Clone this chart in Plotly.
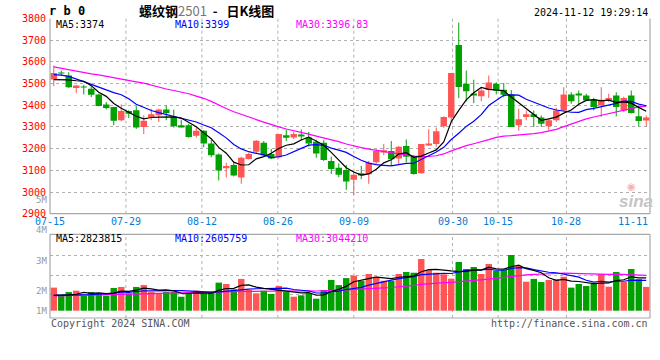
import plotly.graph_objects as go

# ---------------- data ----------------
dates = [
    "2024-07-15", "2024-07-16", "2024-07-17", "2024-07-18", "2024-07-19", "2024-07-22", "2024-07-23",
    "2024-07-24", "2024-07-25", "2024-07-26", "2024-07-29", "2024-07-30", "2024-07-31",
    "2024-08-01", "2024-08-02", "2024-08-05", "2024-08-06", "2024-08-07", "2024-08-08", "2024-08-09",
    "2024-08-12", "2024-08-13", "2024-08-14", "2024-08-15", "2024-08-16", "2024-08-19", "2024-08-20",
    "2024-08-21", "2024-08-22", "2024-08-23", "2024-08-26", "2024-08-27", "2024-08-28", "2024-08-29",
    "2024-08-30",
    "2024-09-02", "2024-09-03", "2024-09-04", "2024-09-05", "2024-09-06", "2024-09-09", "2024-09-10",
    "2024-09-11", "2024-09-12", "2024-09-13", "2024-09-18", "2024-09-19", "2024-09-20", "2024-09-23",
    "2024-09-24", "2024-09-25", "2024-09-26", "2024-09-27", "2024-09-30",
    "2024-10-08", "2024-10-09", "2024-10-10", "2024-10-11", "2024-10-14", "2024-10-15", "2024-10-16",
    "2024-10-17", "2024-10-18", "2024-10-21", "2024-10-22", "2024-10-23", "2024-10-24", "2024-10-25",
    "2024-10-28", "2024-10-29", "2024-10-30", "2024-10-31",
    "2024-11-01", "2024-11-04", "2024-11-05", "2024-11-06", "2024-11-07", "2024-11-08", "2024-11-11",
    "2024-11-12",
]

opens = [3519, 3550, 3537, 3479, 3485, 3476, 3450, 3403, 3392, 3331,
         3374, 3377, 3300, 3346, 3354, 3380, 3346, 3308, 3308, 3259,
         3282, 3224, 3173, 3109, 3125, 3067, 3152, 3186, 3227, 3175,
         3160, 3262, 3251, 3262, 3251, 3232, 3227, 3143, 3112, 3102,
         3056, 3087, 3082, 3137, 3186, 3189, 3155, 3212, 3166, 3087,
         3215, 3221, 3303, 3343, 3678, 3499, 3453, 3442, 3472, 3499,
         3471, 3450, 3308, 3346, 3358, 3343, 3303, 3331, 3376, 3450,
         3453, 3445, 3427, 3399, 3422, 3445, 3376, 3445, 3349, 3334]
highs = [3583, 3560, 3552, 3494, 3494, 3487, 3453, 3415, 3393, 3404,
         3377, 3396, 3354, 3384, 3384, 3400, 3380, 3334, 3315, 3297,
         3285, 3242, 3178, 3135, 3137, 3163, 3181, 3239, 3235, 3198,
         3267, 3288, 3277, 3288, 3277, 3242, 3239, 3163, 3132, 3125,
         3094, 3120, 3143, 3197, 3221, 3235, 3212, 3242, 3170, 3221,
         3290, 3297, 3349, 3549, 3781, 3560, 3518, 3484, 3537, 3506,
         3503, 3470, 3384, 3376, 3376, 3353, 3338, 3389, 3483, 3460,
         3468, 3453, 3434, 3483, 3453, 3460, 3440, 3468, 3392, 3353]
lows = [3488, 3537, 3480, 3456, 3450, 3438, 3395, 3381, 3308, 3326,
        3341, 3291, 3267, 3331, 3323, 3331, 3297, 3297, 3250, 3251,
        3206, 3160, 3053, 3067, 3072, 3038, 3150, 3178, 3167, 3152,
        3155, 3235, 3244, 3239, 3209, 3158, 3143, 3083, 3068, 3010,
        2987, 3059, 3038, 3129, 3170, 3120, 3129, 3137, 3080, 3085,
        3212, 3209, 3296, 3323, 3433, 3418, 3410, 3418, 3433, 3450,
        3437, 3300, 3282, 3331, 3300, 3300, 3285, 3323, 3374, 3407,
        3399, 3419, 3376, 3346, 3414, 3349, 3369, 3362, 3303, 3303]
closes = [3549, 3547, 3483, 3491, 3483, 3448, 3396, 3387, 3328, 3374,
          3361, 3297, 3328, 3358, 3380, 3364, 3303, 3300, 3254, 3282,
          3224, 3170, 3099, 3120, 3076, 3158, 3175, 3236, 3170, 3155,
          3267, 3250, 3267, 3259, 3224, 3178, 3148, 3106, 3079, 3048,
          3079, 3076, 3135, 3189, 3193, 3151, 3209, 3163, 3083, 3221,
          3224, 3280, 3346, 3549, 3484, 3465, 3445, 3468, 3505, 3468,
          3448, 3300, 3335, 3358, 3346, 3315, 3331, 3376, 3450, 3419,
          3445, 3422, 3392, 3425, 3434, 3392, 3434, 3364, 3327, 3343]

# volume, millions of lots
volume_m = [1.98, 1.26, 1.60, 1.72, 1.26, 1.60, 1.49, 1.29, 1.95, 2.04,
            1.49, 2.04, 2.20, 1.60, 1.49, 1.60, 1.60, 1.20, 1.49, 1.72,
            1.49, 1.60, 2.41, 2.29, 1.83, 2.73, 1.78, 1.49, 1.72, 1.44,
            2.12, 1.60, 1.20, 1.32, 1.49, 1.03, 1.78, 2.64, 2.20, 2.80,
            3.01, 2.57, 3.15, 2.92, 2.57, 2.57, 3.15, 3.32, 3.26, 4.44,
            3.49, 3.26, 3.12, 2.75, 4.18, 3.58, 3.75, 3.15, 4.01, 3.43,
            3.49, 4.78, 3.84, 2.49, 2.73, 2.46, 2.64, 2.70, 2.92, 1.98,
            2.29, 2.12, 2.29, 3.15, 2.06, 3.32, 2.46, 3.58, 2.70, 2.04]

# moving-average values before the window is full (prior history not shown)
ma5_early = [3518, 3518, 3517, 3513]
ma10_early = [3541, 3539, 3533, 3522, 3509, 3496, 3483, 3470, 3458]
ma30_early = [3577, 3570, 3563, 3556, 3549, 3545, 3540, 3533, 3526, 3520,
              3514, 3508, 3502, 3492, 3483, 3475, 3468, 3461, 3453, 3442,
              3432, 3418, 3400, 3385, 3370, 3357, 3345, 3334, 3322]
vma5_early = [1.32, 1.32, 1.35, 1.41]
vma10_early = [1.32, 1.32, 1.35, 1.38, 1.38, 1.38, 1.43, 1.43, 1.49]
vma30_early = [1.27, 1.28, 1.30, 1.31, 1.33, 1.34, 1.36, 1.37, 1.39, 1.40,
               1.42, 1.43, 1.45, 1.46, 1.48, 1.49, 1.51, 1.52, 1.54, 1.55,
               1.57, 1.58, 1.60, 1.62, 1.63, 1.65, 1.66, 1.68, 1.69]

tick_labels = ["07-15", "07-29", "08-12", "08-26", "09-09", "09-30", "10-15", "10-28", "11-11"]
price_ticks = [2900, 3000, 3100, 3200, 3300, 3400, 3500, 3600, 3700, 3800]
vol_axis_labels = ["5M", "4M", "3M", "2M", "1M"]

title_name = "螺纹钢"
title_code = "2501"
title_rest = "\u00a0\u00a0-\u00a0\u00a0\u00a0日K线图"
symbol_text = "r b 0"
stamp_text = "2024-11-12 19:29:14"
price_ma_text = ["MA5:3374", "MA10:3399", "MA30:3396.83"]
vol_ma_text = ["MA5:2823815", "MA10:2605759", "MA30:3044210"]

# ---------------- helpers ----------------
def sma(vals, n, early):
    out = list(early)
    for i in range(n - 1, len(vals)):
        w = vals[i - n + 1:i + 1]
        out.append(sum(w) / n)
    return out

N = len(dates)
idx = list(range(N))
RED = "#ff5555"
GREEN = "#00a000"
MONO = "DejaVu Sans Mono"

up = [c >= o for o, c in zip(opens, closes)]

fig = go.Figure()

# wicks
for flag, col in ((True, RED), (False, GREEN)):
    xs, ys = [], []
    for i in idx:
        if up[i] == flag:
            xs += [i, i, None]
            ys += [lows[i], highs[i], None]
    fig.add_trace(go.Scatter(x=xs, y=ys, mode="lines", line=dict(color=col, width=1),
                             hoverinfo="skip", xaxis="x", yaxis="y"))

# bodies
for flag, col in ((True, RED), (False, GREEN)):
    xs = [i for i in idx if up[i] == flag]
    base = [min(opens[i], closes[i]) for i in xs]
    hgt = [max(abs(closes[i] - opens[i]), 3) for i in xs]
    fig.add_trace(go.Bar(x=xs, y=hgt, base=base, width=0.86, marker=dict(color=col, line=dict(width=0)),
                         xaxis="x", yaxis="y"))

# price MAs
for vals, col in ((sma(closes, 30, ma30_early), "#ff00ff"),
                  (sma(closes, 10, ma10_early), "#0000ff"),
                  (sma(closes, 5, ma5_early), "#000000")):
    fig.add_trace(go.Scatter(x=idx, y=vals, mode="lines", line=dict(color=col, width=1.2),
                             xaxis="x", yaxis="y"))

# volume bars
for flag, col in ((True, RED), (False, GREEN)):
    xs = [i for i in idx if up[i] == flag]
    fig.add_trace(go.Bar(x=xs, y=[volume_m[i] for i in xs], width=0.86,
                         marker=dict(color=col, line=dict(width=0)), xaxis="x2", yaxis="y2"))

for vals, col in ((sma(volume_m, 30, vma30_early), "#ff00ff"),
                  (sma(volume_m, 10, vma10_early), "#0000ff"),
                  (sma(volume_m, 5, vma5_early), "#000000")):
    fig.add_trace(go.Scatter(x=idx, y=vals, mode="lines", line=dict(color=col, width=1.2),
                             xaxis="x2", yaxis="y2"))

# ---------------- layout ----------------
date_pos = {d[5:]: k for k, d in enumerate(dates)}
tick_idx = [date_pos[t] for t in tick_labels]
# label/grid spacing used by the chart: N-1 intervals over the plot width
tick_pos = [k * N / (N - 1) - 0.5 for k in tick_idx]

PTOP, PBOT = 0.99833, 0.3477
VTOP = 0.279

GRID = "#b0b0b0"
BORDER = "#a8a8a8"

shapes = []
for p in tick_pos[1:-1]:
    for yref in ("y domain", "y2 domain"):
        shapes.append(dict(type="line", xref="x", yref=yref, x0=p, x1=p, y0=0, y1=1,
                           line=dict(color=GRID, width=1, dash="dot"), layer="below"))
# panel borders
for (x0, y0, x1, y1) in ((0, PBOT, 0, PTOP), (1, PBOT, 1, PTOP), (0, PBOT, 1, PBOT),
                         (0, 0, 0, VTOP), (1, 0, 1, VTOP), (0, 0, 1, 0), (0, VTOP, 1, VTOP)):
    shapes.append(dict(type="line", xref="paper", yref="paper", x0=x0, x1=x1, y0=y0, y1=y1,
                       line=dict(color=BORDER, width=1.2), layer="above"))

def px_x(x):
    return (x - 50) / 600.0

def px_y(y):
    return (318 - y) / 300.0

ann = []
def add_text(text, x, y, xanchor="left", color="#000", size=10, family=MONO, **kw):
    ann.append(dict(text=text, x=px_x(x), y=px_y(y), xref="paper", yref="paper",
                    xanchor=xanchor, yanchor="middle", showarrow=False,
                    font=dict(family=family, size=size, color=color), **kw))

# date labels under the price panel (last one kept inside the panel)
for k, (t, p) in enumerate(zip(tick_labels, tick_pos)):
    last = k == len(tick_labels) - 1
    ann.append(dict(text=t, x=(N - 0.5) if last else p, xref="x", y=px_y(221), yref="paper",
                    xanchor="right" if last else "center", yanchor="middle", showarrow=False,
                    font=dict(family=MONO, size=10, color="#0a7ad2")))

add_text("<b>%s</b>" % symbol_text, 47, 11.5, size=12)
add_text("<b>%s</b><span style='color:#777777'>%s</span><b>%s</b>" % (title_name, title_code, title_rest),
         206, 10.5, xanchor="center", size=13, family="Noto Sans CJK SC")
add_text(stamp_text, 650, 12.5, xanchor="right")
ma_cols = ["#000000", "#0000ff", "#ff00ff"]
for t, x, c in zip(price_ma_text, (54, 173, 294), ma_cols):
    add_text(t, x, 24, color=c)
for t, x, c in zip(vol_ma_text, (54, 173, 294), ma_cols):
    add_text(t, x, 238.7, color=c)
for t, y in zip(vol_axis_labels, (200, 229.8, 260.7, 290.7, 310.7)):
    add_text(t, 47.5, y, xanchor="right", color="#999999", size=9, borderpad=0)
add_text("Copyright 2024 SINA.COM", 49, 323.7, color="#555555")
add_text("http://finance.sina.com.cn", 650, 323.7, xanchor="right", color="#555555")
add_text("<b><i>sina</i></b>", 636, 201, xanchor="center", color="#c4c4c4", size=17,
         family="Liberation Sans")
add_text("◉", 631, 186, xanchor="center", color="#f4b0b0", size=10, family="DejaVu Sans")

fig.update_layout(
    width=660, height=360, autosize=False,
    margin=dict(l=50, r=10, t=18, b=42),
    paper_bgcolor="white", plot_bgcolor="white",
    showlegend=False, barmode="overlay", hovermode=False,
    xaxis=dict(domain=[0, 1], anchor="y", range=[-0.5, N - 0.5], showticklabels=False,
               showgrid=False, zeroline=False, showline=False, ticks=""),
    yaxis=dict(domain=[PBOT, PTOP], anchor="x", range=[price_ticks[0], price_ticks[-1]],
               tickmode="array", tickvals=price_ticks, ticktext=[str(v) for v in price_ticks],
               showgrid=True, gridcolor=GRID, griddash="dot", gridwidth=1, zeroline=False,
               showline=False, ticks="", ticklabelshift=0, ticklabelstandoff=3,
               tickfont=dict(family=MONO, size=10, color="#ff0000")),
    xaxis2=dict(domain=[0, 1], anchor="y2", matches="x", showticklabels=False, showgrid=False,
                zeroline=False, showline=False, ticks=""),
    yaxis2=dict(domain=[0, VTOP], anchor="x2", range=[-0.627, 6.558], tickmode="array",
                tickvals=[1.35, 3.06, 4.78], showticklabels=False, showgrid=True, gridcolor=GRID,
                griddash="dot", zeroline=False, showline=False, ticks=""),
    shapes=shapes, annotations=ann,
)

fig.write_html("out.html", config={"displayModeBar": False},
               post_script="document.body.style.margin='0px';")
